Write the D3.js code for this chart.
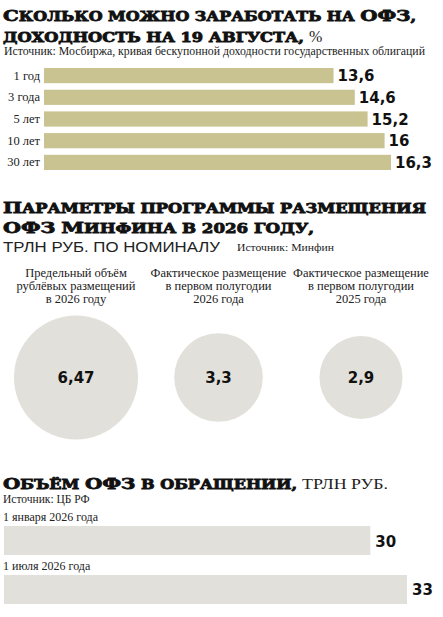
<!DOCTYPE html>
<html>
<head>
<meta charset="utf-8">
<script src="https://cdn.jsdelivr.net/npm/d3@7"></script>
<style>
  body { margin: 0; background: #fff; }
  svg { display: block; }
</style>
</head>
<body>
<script>
// chart size
var width = 443;
var height = 617;

// data: yields (top block)
var yieldCats = ["1 год", "3 года", "5 лет", "10 лет", "30 лет"];
var yieldValues = [13.6, 14.6, 15.2, 16, 16.3];
var yieldLabels = ["13,6", "14,6", "15,2", "16", "16,3"];

// data: borrowing programme circles
var progLabels = [
  ["Предельный объём", "рублёвых размещений", "в 2026 году"],
  ["Фактическое размещение", "в первом полугодии", "2026 года"],
  ["Фактическое размещение", "в первом полугодии", "2025 года"]
];
var progValues = [6.47, 3.3, 2.9];
var progText = ["6,47", "3,3", "2,9"];

// data: OFZ outstanding
var volCats = ["1 января 2026 года", "1 июля 2026 года"];
var volValues = [30, 33];

// colours
var barColor = "#c9c391";
var greyColor = "#e1e0da";

var holder = d3.select("body")
    .append("svg")
    .attr("width", width)
    .attr("height", height);

// heading in the paper's style: capitals big, the rest as small caps
function heading(y, str, len, big, small) {
  var t = holder.append("text")
      .attr("x", 3)
      .attr("y", y)
      .attr("font-family", "DejaVu Serif")
      .attr("font-weight", "900")
      .attr("fill", "#111")
      .attr("stroke", "#111")
      .attr("stroke-width", 0.8)
      .attr("textLength", len)
      .attr("lengthAdjust", "spacingAndGlyphs");
  // split into runs of upper-case and the rest
  var runs = str.match(/([A-ZА-ЯЁ]+|[^A-ZА-ЯЁ]+)/g);
  runs.forEach(function(r) {
    var isUp = /[A-ZА-ЯЁ]/.test(r[0]);
    t.append("tspan")
        .attr("font-size", isUp ? big : small)
        .style("text-transform", "uppercase")
        .text(r);
  });
  return t;
}

// ---------- block 1: yields ----------
heading(21, "Сколько можно заработать на ОФЗ,", 413, 15.5, 12.5);
heading(41.5, "доходность на 19 августа,", 301, 15.5, 12.5);
holder.append("text")
    .attr("x", 309)
    .attr("y", 41.5)
    .attr("font-family", "Liberation Serif")
    .attr("font-size", 16)
    .attr("fill", "#222")
    .text("%");

holder.append("text")
    .attr("x", 4)
    .attr("y", 55)
    .attr("font-family", "Liberation Serif")
    .attr("font-size", 11.8)
    .attr("fill", "#222")
    .attr("textLength", 421)
    .attr("lengthAdjust", "spacingAndGlyphs")
    .text("Источник: Мосбиржа, кривая бескупонной доходности государственных облигаций");

var xScale = d3.scaleLinear()
    .domain([0, 16.3])
    .range([44, 391]);

var yScale = d3.scaleBand()
    .domain(yieldCats)
    .range([68, 170])
    .paddingInner(0.3)
    .paddingOuter(0);

holder.selectAll(".ybar")
    .data(yieldValues)
    .enter().append("rect")
    .attr("class", "ybar")
    .attr("x", xScale(0))
    .attr("y", function(d, i) { return yScale(yieldCats[i]); })
    .attr("width", function(d) { return xScale(d) - xScale(0); })
    .attr("height", yScale.bandwidth())
    .style("fill", barColor);

holder.selectAll(".yval")
    .data(yieldValues)
    .enter().append("text")
    .attr("class", "yval")
    .attr("x", function(d) { return xScale(d) + 4; })
    .attr("y", function(d, i) { return yScale(yieldCats[i]) + yScale.bandwidth() / 2 + 5.5; })
    .attr("font-family", "DejaVu Sans")
    .attr("font-weight", "bold")
    .attr("font-size", 15)
    .attr("fill", "#111")
    .text(function(d, i) { return yieldLabels[i]; });

holder.selectAll(".ycat")
    .data(yieldCats)
    .enter().append("text")
    .attr("class", "ycat")
    .attr("x", 40)
    .attr("y", function(d) { return yScale(d) + yScale.bandwidth() / 2 + 4; })
    .attr("text-anchor", "end")
    .attr("font-family", "Liberation Serif")
    .attr("font-size", 12.5)
    .attr("fill", "#222")
    .text(function(d) { return d; });

// ---------- block 2: programme ----------
heading(213, "Параметры программы размещения", 423, 15.5, 12.5);
heading(233, "ОФЗ Минфина в 2026 году,", 311, 15.5, 12.5);

holder.append("text")
    .attr("x", 3)
    .attr("y", 252)
    .attr("font-family", "Liberation Sans")
    .attr("font-size", 14)
    .attr("fill", "#222")
    .attr("textLength", 217)
    .attr("lengthAdjust", "spacingAndGlyphs")
    .text("ТРЛН РУБ. ПО НОМИНАЛУ");

holder.append("text")
    .attr("x", 237)
    .attr("y", 251)
    .attr("font-family", "Liberation Serif")
    .attr("font-size", 11)
    .attr("fill", "#222")
    .attr("textLength", 97)
    .attr("lengthAdjust", "spacingAndGlyphs")
    .text("Источник: Минфин");

var cx = d3.scalePoint()
    .domain(d3.range(progValues.length))
    .range([76, 361]);

var rScale = d3.scaleSqrt()
    .domain([0, 6.47])
    .range([0, 62]);

var groups = holder.selectAll(".prog")
    .data(progValues)
    .enter().append("g")
    .attr("class", "prog")
    .attr("transform", function(d, i) { return "translate(" + cx(i) + ",0)"; });

groups.append("circle")
    .attr("cx", 0)
    .attr("cy", 377.5)
    .attr("r", function(d) { return rScale(d); })
    .style("fill", greyColor);

groups.append("text")
    .attr("x", 0)
    .attr("y", 383)
    .attr("text-anchor", "middle")
    .attr("font-family", "DejaVu Sans")
    .attr("font-weight", "bold")
    .attr("font-size", 15)
    .attr("fill", "#111")
    .text(function(d, i) { return progText[i]; });

groups.each(function(d, i) {
  var g = d3.select(this);
  progLabels[i].forEach(function(line, j) {
    g.append("text")
        .attr("x", 0)
        .attr("y", 277 + j * 13.2)
        .attr("text-anchor", "middle")
        .attr("font-family", "Liberation Serif")
        .attr("font-size", 12.5)
        .attr("fill", "#222")
        .text(line);
  });
});

// ---------- block 3: outstanding volume ----------
heading(489, "Объём ОФЗ в обращении,", 294, 15.5, 12.5);
holder.append("text")
    .attr("x", 302)
    .attr("y", 489)
    .attr("font-family", "Liberation Serif")
    .attr("font-size", 14)
    .attr("fill", "#222")
    .attr("textLength", 86)
    .attr("lengthAdjust", "spacingAndGlyphs")
    .text("ТРЛН РУБ.");

holder.append("text")
    .attr("x", 3)
    .attr("y", 503)
    .attr("font-family", "Liberation Serif")
    .attr("font-size", 11.5)
    .attr("fill", "#222")
    .text("Источник: ЦБ РФ");

var vScale = d3.scaleLinear()
    .domain([0, 33])
    .range([4, 407]);

var vY = d3.scaleBand()
    .domain(volCats)
    .range([526, 604])
    .paddingInner(0.408)
    .paddingOuter(0);

holder.selectAll(".vbar")
    .data(volValues)
    .enter().append("rect")
    .attr("class", "vbar")
    .attr("x", vScale(0))
    .attr("y", function(d, i) { return vY(volCats[i]); })
    .attr("width", function(d) { return vScale(d) - vScale(0); })
    .attr("height", vY.bandwidth())
    .style("fill", greyColor);

holder.selectAll(".vcat")
    .data(volCats)
    .enter().append("text")
    .attr("class", "vcat")
    .attr("x", 3)
    .attr("y", function(d) { return vY(d) - 5; })
    .attr("font-family", "Liberation Serif")
    .attr("font-size", 12)
    .attr("fill", "#222")
    .text(function(d) { return d; });

holder.selectAll(".vval")
    .data(volValues)
    .enter().append("text")
    .attr("class", "vval")
    .attr("x", function(d) { return vScale(d) + 5; })
    .attr("y", function(d, i) { return vY(volCats[i]) + vY.bandwidth() / 2 + 6; })
    .attr("font-family", "DejaVu Sans")
    .attr("font-weight", "bold")
    .attr("font-size", 15)
    .attr("fill", "#111")
    .text(function(d) { return d; });
</script>
</body>
</html>
